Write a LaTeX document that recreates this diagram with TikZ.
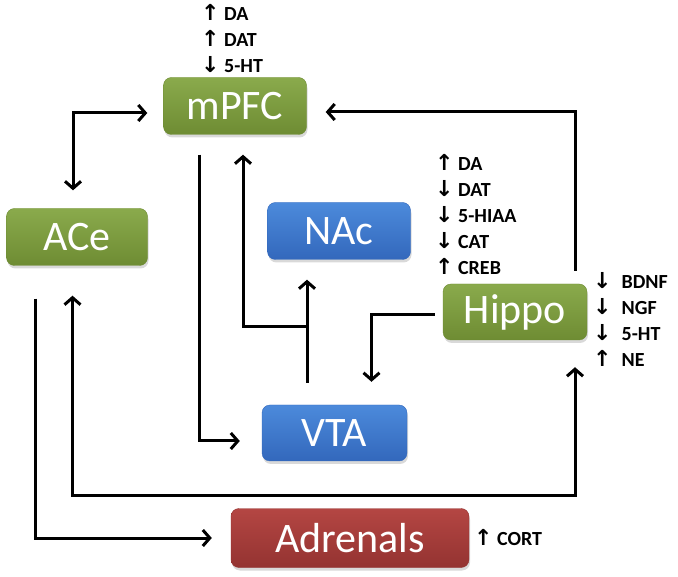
\documentclass[tikz,border=0pt]{standalone}
\usepackage{fontspec}
\setmainfont{Carlito}
\newfontfamily\arrfont{DejaVu Sans}
\usepackage{tikz}
\usetikzlibrary{arrows.meta,positioning,shadows}
\definecolor{GreenTop}{HTML}{8AAA4C}
\definecolor{GreenBot}{HTML}{6E8C33}
\definecolor{BlueTop}{HTML}{4C8ADB}
\definecolor{BlueBot}{HTML}{3368BC}
\definecolor{RedTop}{HTML}{B44643}
\definecolor{RedBot}{HTML}{943331}
\newcommand{\uparr}{{\arrfont\bfseries\fontsize{22}{26}\selectfont ↑}}
\newcommand{\dnarr}{{\arrfont\bfseries\fontsize{22}{26}\selectfont ↓}}

\begin{document}
\begin{tikzpicture}[x=1pt,y=-1pt,
  box/.style={rounded corners=8pt,minimum width=143pt,minimum height=57pt,inner sep=0pt,
    text=white,font=\fontsize{42}{48}\selectfont,
    drop shadow={shadow xshift=1pt,shadow yshift=-3pt,opacity=0.3}},
  gbox/.style={box,top color=GreenTop,bottom color=GreenBot,draw=GreenBot},
  bbox/.style={box,top color=BlueTop,bottom color=BlueBot,draw=BlueBot},
  rbox/.style={box,top color=RedTop,bottom color=RedBot,draw=RedBot},
  >={Straight Barb[length=7pt,width=16pt]},
  conn/.style={line width=3pt,->},
  dconn/.style={line width=3pt,<->},
  lbl/.style={font=\bfseries\fontsize{20}{26}\selectfont,align=left,inner sep=0pt,anchor=west}]
  \useasboundingbox (0,0) rectangle (678,577);
  \node[gbox] (mpfc) at (235,106) {mPFC};
  \node[gbox,minimum width=141pt] (ace) at (77,237) {ACe};
  \node[bbox] (nac) at (339,231) {NAc};
  \node[gbox,minimum width=144pt,minimum height=56pt] (hippo) at (515,312) {Hippo};
  \node[bbox,minimum width=145pt,minimum height=56pt] (vta) at (334.5,433) {VTA};
  \node[rbox,minimum width=238pt,minimum height=59pt] (adrenals) at (350,538) {Adrenals};
  \node[lbl] (mpfcmarks) at (201,39) {\uparr{} DA\\\uparr{} DAT\\\dnarr{} 5-HT};
  \node[lbl] (nacmarks) at (435,215) {\uparr{} DA\\\dnarr{} DAT\\\dnarr{} 5-HIAA\\\dnarr{} CAT\\\uparr{} CREB};
  \node[lbl] (hippomarks) at (593,319) {\dnarr\hspace{10pt}BDNF\\\dnarr\hspace{10pt}NGF\\\dnarr\hspace{10pt}5-HT\\\uparr\hspace{10pt}NE};
  \node[lbl] (adrmarks) at (474,538) {\uparr{} CORT};
  \coordinate (split) at (307,327);
  \coordinate (bus) at (575,495);
  \draw[dconn,shorten <=16pt,shorten >=18pt] ([yshift=-7pt]mpfc.west) -| ([xshift=-4pt]ace.north);
  \draw[conn,shorten <=13pt,shorten >=19pt] ([xshift=-12pt]hippo.north east) |- ([yshift=-6pt]mpfc.east);
  \draw[conn,shorten <=20pt,shorten >=22pt] ([xshift=-36pt]mpfc.south) |- ([yshift=-8pt]vta.west);
  \draw[conn,shorten <=22pt,shorten >=20pt] (vta.north -| split) -- (nac.south -| split);
  \draw[conn,shorten >=20pt] (split) -| ([xshift=8pt]mpfc.south);
  \draw[conn,shorten <=8pt,shorten >=23pt] ([yshift=-3pt]hippo.west) -| ([xshift=37pt]vta.north);
  \draw[dconn,shorten <=30pt,shorten >=27pt] ([xshift=-4.5pt]ace.south) |- (bus) -- (hippo.south -| bus);
  \draw[conn,shorten <=33pt,shorten >=19pt] ([xshift=-42pt]ace.south) |- (adrenals.west);
\end{tikzpicture}
\end{document}
